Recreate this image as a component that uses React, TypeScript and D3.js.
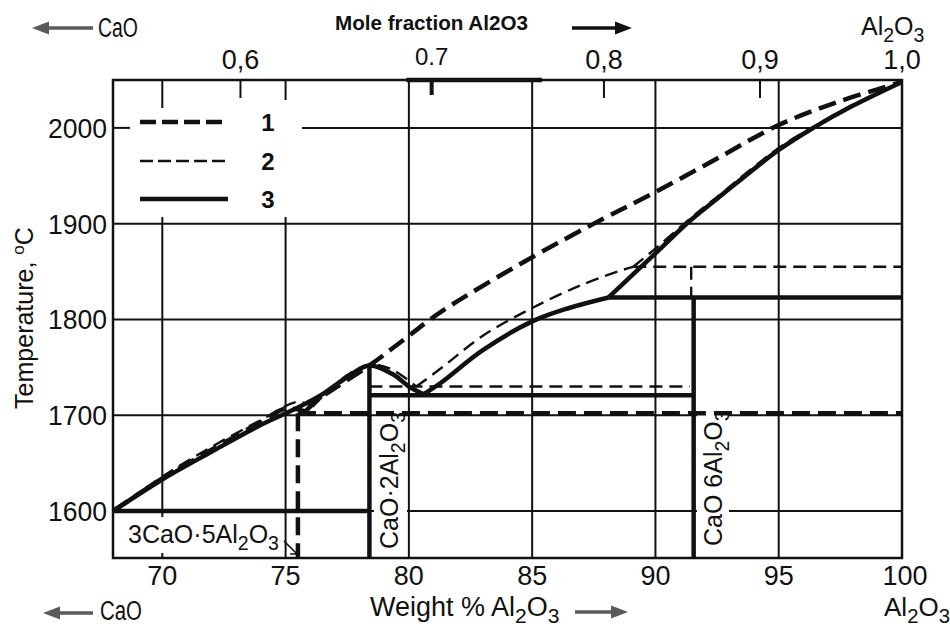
import React, { useRef, useEffect } from "react";
import * as d3 from "d3";

// liquidus branches: [wt% Al2O3, temperature °C], split at eutectic / peritectic corners
const liquidus1 = [
  [[68, 1600], [70, 1634], [72, 1664], [74, 1693], [75, 1707], [75.8, 1704]],
  [[75.8, 1704], [76.3, 1716], [78.4, 1752], [79.8, 1779], [81.3, 1808], [85, 1865],
    [87.8, 1904], [90, 1933], [92.5, 1968], [95, 2003], [97.5, 2028], [100, 2048]],
];
const liquidus2 = [
  [[68, 1600], [70, 1636], [72, 1667], [74, 1695], [75.5, 1714], [76.1, 1709]],
  [[76.1, 1709], [76.6, 1722], [77.5, 1742], [78.4, 1753], [79.3, 1748], [80.3, 1730]],
  [[80.3, 1730], [81.3, 1749], [83, 1783], [85, 1812], [87, 1836], [88.7, 1852], [89.1, 1855]],
  [[89.1, 1855], [90, 1874], [91.3, 1903], [92.5, 1928], [95, 1979], [96.4, 2001],
    [98, 2024], [100, 2048]],
];
const liquidus3 = [
  [[68, 1600], [70, 1633], [72, 1662], [74, 1690], [75.5, 1708], [76.5, 1722], [77.5, 1740],
    [78.4, 1752], [79.4, 1742], [80, 1730], [80.6, 1722]],
  [[80.6, 1722], [81.3, 1734], [83, 1768], [85, 1798], [86.5, 1812], [88.1, 1823]],
  [[88.1, 1823], [90, 1869], [91.4, 1903], [92.5, 1926], [95, 1977], [96.4, 2000],
    [98, 2023], [100, 2048]],
];

// invariant lines and compound lines
const phaseLines1 = [
  [[75.5, 1702], [100, 1702]],
  [[75.5, 1702], [75.5, 1551]],
];
const phaseLines2 = [
  [[78.4, 1730], [91.4, 1730]],
  [[89.1, 1855], [100, 1855]],
  [[91.45, 1855], [91.45, 1823]],
];
const phaseLines3 = [
  [[68, 1600], [78.4, 1600]],
  [[78.4, 1752], [78.4, 1551]],
  [[78.4, 1721], [91.55, 1721]],
  [[91.55, 1823], [91.55, 1551]],
  [[88.1, 1823], [100, 1823]],
];

const weightTicks = [70, 75, 80, 85, 90, 95, 100];
const tempTicks = [1600, 1700, 1800, 1900, 2000];
const moleTicks = [0.6, 0.7, 0.8, 0.9, 1.0];
const moleLabels = ["0,6", "0.7", "0,8", "0,9", "1,0"];
const legendLabels = ["1", "2", "3"];

const M_AL2O3 = 101.96;
const M_CAO = 56.08;
const moleToWeight = (n) => (100 * n * M_AL2O3) / (n * M_AL2O3 + (1 - n) * M_CAO);

const INK = "#111";
const FONT = "'Liberation Sans', Arial, sans-serif";
const seriesStyle = [
  { width: 4.5, dash: "18 8" },
  { width: 2.4, dash: "13 7" },
  { width: 4.5, dash: null },
];

// writes "Al_2O_3" style text with subscripts as tspans
function chem(text, str, size) {
  let shift = 0;
  str.split(/(_\d)/).filter((s) => s.length).forEach((part) => {
    const sub = part[0] === "_";
    const target = sub ? size * 0.27 : 0;
    text
      .append("tspan")
      .attr("dy", target - shift)
      .attr("font-size", sub ? size * 0.78 : size)
      .text(sub ? part.slice(1) : part);
    shift = target;
  });
}

function arrow(g, tail, tip, y, color) {
  const dir = tip > tail ? 1 : -1;
  g.append("line")
    .attr("x1", tail).attr("x2", tip - dir * 12).attr("y1", y).attr("y2", y)
    .attr("stroke", color).attr("stroke-width", 3.5);
  g.append("path")
    .attr("d", `M${tip},${y} L${tip - dir * 17},${y - 6.5} L${tip - dir * 17},${y + 6.5} Z`)
    .attr("fill", color);
}

const App = () => {
  const ref = useRef(null);

  useEffect(() => {
    const svg = d3.select(ref.current);
    svg.selectAll("*").remove();

    const x = d3.scaleLinear().domain([68, 100]).range([113, 902]);
    const y = d3.scaleLinear().domain([1551, 2050]).range([558, 80]);
    const [x0, x1] = x.range();
    const [yb, yt] = y.range();

    svg.append("rect").attr("width", 950).attr("height", 628).attr("fill", "#fff");

    // grid
    const grid = svg.append("g").attr("stroke", INK).attr("stroke-width", 2);
    weightTicks.filter((d) => d < 100).forEach((d) => {
      grid.append("line")
        .attr("x1", x(d)).attr("x2", x(d))
        .attr("y1", yb).attr("y2", d < 78 ? y(1907) : yt);
    });
    tempTicks.forEach((d) => {
      grid.append("line")
        .attr("x1", d === 2000 ? 302 : x0).attr("x2", x1)
        .attr("y1", y(d)).attr("y2", y(d));
    });
    grid.append("line").attr("x1", x0).attr("x2", x0 + 17).attr("y1", y(2000)).attr("y2", y(2000));
    [[70, 28], [75, 20]].forEach(([d, len]) => {
      grid.append("line").attr("x1", x(d)).attr("x2", x(d)).attr("y1", yt).attr("y2", yt + len);
    });

    // top mole fraction ticks
    moleTicks.forEach((m, i) => {
      const px = x(moleToWeight(m));
      if (m < 1) {
        svg.append("line")
          .attr("x1", px).attr("x2", px).attr("y1", yt).attr("y2", yt + (i === 1 ? 15 : 18))
          .attr("stroke", INK).attr("stroke-width", i === 1 ? 4 : 2);
      }
      svg.append("text")
        .attr("x", px).attr("y", i === 1 ? 65 : 69)
        .attr("text-anchor", "middle")
        .attr("font-family", FONT)
        .attr("font-size", i === 1 ? 24 : 27)
        .attr("fill", INK)
        .text(moleLabels[i]);
    });

    // frame
    svg.append("rect")
      .attr("x", x0).attr("y", yt).attr("width", x1 - x0).attr("height", yb - yt)
      .attr("fill", "none").attr("stroke", INK).attr("stroke-width", 2.5);
    svg.append("line")
      .attr("x1", x(79.9)).attr("x2", x(85.4)).attr("y1", yt).attr("y2", yt)
      .attr("stroke", INK).attr("stroke-width", 4.5);

    // compound label knockouts
    const knock = svg.append("g").attr("fill", "#fff");
    knock.append("rect").attr("x", 122).attr("y", 517).attr("width", 160).attr("height", 36);
    knock.append("rect").attr("x", 374).attr("y", 421).attr("width", 33).attr("height", 130);
    knock.append("rect").attr("x", 697).attr("y", 402).attr("width", 32).attr("height", 146);

    const line = d3.line().x((d) => x(d[0])).y((d) => y(d[1])).curve(d3.curveCatmullRom.alpha(0.5));
    const seg = d3.line().x((d) => x(d[0])).y((d) => y(d[1]));

    const drawSeries = (branches, lines, st) => {
      const g = svg.append("g")
        .attr("fill", "none").attr("stroke", INK)
        .attr("stroke-width", st.width)
        .attr("stroke-dasharray", st.dash)
        .attr("stroke-linejoin", "round");
      lines.forEach((l) => g.append("path").attr("d", seg(l)));
      branches.forEach((b) => g.append("path").attr("d", line(b)));
    };
    drawSeries(liquidus3, phaseLines3, seriesStyle[2]);
    drawSeries(liquidus2, phaseLines2, seriesStyle[1]);
    drawSeries(liquidus1, phaseLines1, seriesStyle[0]);

    // legend
    legendLabels.forEach((lab, i) => {
      const ly = [122, 161, 199][i];
      svg.append("line")
        .attr("x1", 140).attr("x2", i === 0 ? 222 : 228).attr("y1", ly).attr("y2", ly)
        .attr("stroke", INK)
        .attr("stroke-width", i === 1 ? 2.6 : 4.5)
        .attr("stroke-dasharray", i === 0 ? "16 6" : i === 1 ? "13 5" : null);
      svg.append("text")
        .attr("x", 268).attr("y", ly + 9)
        .attr("text-anchor", "middle")
        .attr("font-family", FONT).attr("font-weight", "bold").attr("font-size", 24)
        .attr("fill", INK)
        .text(lab);
    });

    // axis tick labels
    weightTicks.forEach((d) => {
      svg.append("text")
        .attr("x", x(d) + (d === 100 ? 3 : 0)).attr("y", 585)
        .attr("text-anchor", "middle")
        .attr("font-family", FONT).attr("font-size", 27).attr("fill", INK)
        .text(d);
    });
    tempTicks.forEach((d) => {
      svg.append("text")
        .attr("x", 107).attr("y", y(d) + 10)
        .attr("text-anchor", "end")
        .attr("font-family", FONT).attr("font-size", 27).attr("fill", INK)
        .attr("textLength", 59).attr("lengthAdjust", "spacingAndGlyphs")
        .text(d);
    });

    // y title
    const ytitle = svg.append("text")
      .attr("transform", "translate(33,318) rotate(-90)")
      .attr("text-anchor", "middle")
      .attr("font-family", FONT).attr("font-size", 25).attr("fill", INK);
    ytitle.append("tspan").text("Temperature, ");
    ytitle.append("tspan").attr("font-size", 17).attr("dy", -9).text("o");
    ytitle.append("tspan").attr("dy", 9).text("C");

    // corner texts and arrows
    const txt = (tx, ty, str, size, extra) => {
      const t = svg.append("text")
        .attr("x", tx).attr("y", ty)
        .attr("font-family", FONT).attr("font-size", size).attr("fill", INK);
      if (extra) extra(t);
      chem(t, str, size);
      return t;
    };
    txt(98, 37, "CaO", 27, (t) => t.attr("textLength", 40).attr("lengthAdjust", "spacingAndGlyphs"));
    txt(100, 620, "CaO", 27, (t) => t.attr("textLength", 42).attr("lengthAdjust", "spacingAndGlyphs"));
    txt(370, 616, "Weight % Al_2O_3", 27);
    txt(884, 616, "Al_2O_3", 26);
    txt(861, 35, "Al_2O_3", 25);
    svg.append("text")
      .attr("x", 335).attr("y", 30)
      .attr("font-family", FONT).attr("font-weight", "bold").attr("font-size", 21)
      .attr("textLength", 193).attr("lengthAdjust", "spacingAndGlyphs")
      .attr("fill", INK)
      .text("Mole fraction  Al2O3");

    arrow(svg, 93, 32, 28, "#5a5a5a");
    arrow(svg, 93, 43, 613, "#5a5a5a");
    arrow(svg, 575, 628, 612, "#5a5a5a");
    arrow(svg, 572, 632, 28, INK);

    // compound labels
    txt(128, 543, "3CaO·5Al_2O_3", 25);
    svg.append("path")
      .attr("d", "M284,541 L297,554 M290,554 L297,554 L297,547")
      .attr("fill", "none").attr("stroke", INK).attr("stroke-width", 1.6);
    const ca2 = svg.append("text")
      .attr("transform", "translate(398,549) rotate(-90)")
      .attr("font-family", FONT).attr("font-size", 25).attr("fill", INK);
    chem(ca2, "CaO·2Al_2O_3", 25);
    const ca6 = svg.append("text")
      .attr("transform", "translate(722,546) rotate(-90)")
      .attr("font-family", FONT).attr("font-size", 25).attr("fill", INK);
    chem(ca6, "CaO 6Al_2O_3", 25);
  }, []);

  return (
    <svg
      ref={ref}
      width={950}
      height={628}
      style={{ position: "absolute", left: 0, top: 0 }}
    />
  );
};

export default App;
